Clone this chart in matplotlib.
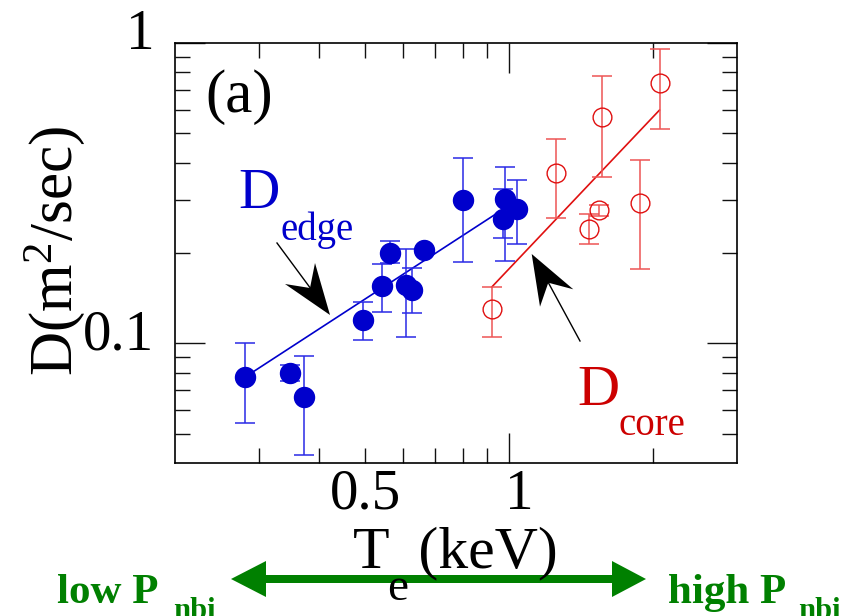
import numpy as np
import matplotlib
matplotlib.use("Agg")
import matplotlib.pyplot as plt
from matplotlib.patches import Polygon
from matplotlib.lines import Line2D
from matplotlib.ticker import FixedLocator, FixedFormatter, NullFormatter
import matplotlib.transforms as mtransforms

plt.rcParams['font.family'] = ['Liberation Serif', 'DejaVu Serif']
plt.rcParams['mathtext.fontset'] = 'custom'
plt.rcParams['mathtext.rm'] = 'Liberation Serif'
plt.rcParams['mathtext.default'] = 'regular'

# ---- data ----
edge_te = [0.280, 0.3475, 0.373, 0.496, 0.542, 0.564, 0.608, 0.628, 0.664, 0.803, 0.981, 0.972, 1.038]
edge_d = [0.0772, 0.0798, 0.0664, 0.120, 0.155, 0.200, 0.157, 0.151, 0.205, 0.300, 0.302, 0.259, 0.281]
edge_lo = [0.0542, 0.0751, 0.0425, 0.1026, 0.127, 0.185, 0.105, 0.126, 0.205, 0.187, 0.188, 0.224, 0.215]
edge_hi = [0.1005, 0.0845, 0.0905, 0.1376, 0.184, 0.219, 0.207, 0.178, 0.205, 0.415, 0.387, 0.327, 0.351]

core_te = [0.920, 1.257, 1.472, 1.545, 1.563, 1.878, 2.075]
core_d = [0.130, 0.368, 0.240, 0.279, 0.567, 0.2925, 0.734]
core_lo = [0.1047, 0.262, 0.2137, 0.266, 0.359, 0.177, 0.516]
core_hi = [0.1543, 0.479, 0.269, 0.290, 0.775, 0.408, 0.955]

fit_edge_te = [0.280, 0.98]
fit_edge_d = [0.0772, 0.282]
fit_core_te = [0.92, 2.065]
fit_core_d = [0.154, 0.598]

x_major = [1.0]
x_minor = [0.3, 0.4, 0.5, 0.6, 0.7, 0.8, 0.9, 2.0]
x_minor_labels = ['', '', '0.5', '', '', '', '', '']
y_major = [0.1, 1.0]
y_major_labels = ['0.1', '1']
y_minor = [0.05, 0.06, 0.07, 0.08, 0.09, 0.2, 0.3, 0.4, 0.5, 0.6, 0.7, 0.8, 0.9]

BLUE = '#0000cc'
BLUE_E = '#2a2ae6'
RED = '#e01010'
RED_E = '#ee5555'
GREEN = '#008000'

W, H = 843, 616
fig = plt.figure(figsize=(W / 100, H / 100), dpi=100)
ax = fig.add_axes([175 / W, 1 - 463 / H, (737 - 175) / W, (463 - 43) / H])
ax.set_xscale('log')
ax.set_yscale('log')
ax.set_xlim(0.2, 3.0)
ax.set_ylim(0.04, 1.0)

def fx(px):
    return px / W

def fy(py):
    return 1 - py / H

# fit lines
ax.plot(fit_edge_te, fit_edge_d, color=BLUE, lw=1.2, zorder=2)
ax.plot(fit_core_te, fit_core_d, color=RED, lw=1.2, zorder=2)

# edge data
e_te = np.array(edge_te); e_d = np.array(edge_d)
e_err = [e_d - np.array(edge_lo), np.array(edge_hi) - e_d]
ax.errorbar(e_te, e_d, yerr=e_err, fmt='none', ecolor=BLUE_E, elinewidth=1.1,
            capsize=7.5, capthick=1.1, zorder=3)
ax.plot(e_te, e_d, 'o', color=BLUE, ms=14.4, mec=BLUE, zorder=4)

# core data
c_te = np.array(core_te); c_d = np.array(core_d)
c_err = [c_d - np.array(core_lo), np.array(core_hi) - c_d]
ax.errorbar(c_te, c_d, yerr=c_err, fmt='none', ecolor=RED_E, elinewidth=1.1,
            capsize=7.5, capthick=1.1, zorder=3)
ax.plot(c_te, c_d, 'o', mfc='none', mec=RED, mew=1.0, ms=13.5, zorder=4)

# ticks
ax.xaxis.set_major_locator(FixedLocator(x_major))
ax.xaxis.set_major_formatter(FixedFormatter(['1']))
ax.xaxis.set_minor_locator(FixedLocator(x_minor))
ax.xaxis.set_minor_formatter(FixedFormatter(x_minor_labels))
ax.yaxis.set_major_locator(FixedLocator(y_major))
ax.yaxis.set_major_formatter(FixedFormatter(y_major_labels))
ax.yaxis.set_minor_locator(FixedLocator(y_minor))
ax.yaxis.set_minor_formatter(NullFormatter())

ax.tick_params(which='both', direction='in', top=True, right=True, width=1.0,
               color='#111111', labelsize=41)
ax.tick_params(which='major', length=21.6)
ax.tick_params(which='minor', length=10.8)
ax.tick_params(axis='x', which='both', pad=4)
ax.tick_params(axis='y', which='both', pad=15)
for s in ax.spines.values():
    s.set_linewidth(1.2)

# tick label offsets
up = mtransforms.ScaledTranslation(0, 14 / 100, fig.dpi_scale_trans)
for t in ax.yaxis.get_major_ticks():
    t.label1.set_transform(t.label1.get_transform() + up)
right = mtransforms.ScaledTranslation(10 / 100, 0, fig.dpi_scale_trans)
for t in ax.xaxis.get_major_ticks():
    t.label1.set_transform(t.label1.get_transform() + right)

# axis labels
fig.text(fx(55), fy(251), 'D(m$^2$/sec)', rotation=90, ha='center', va='center', fontsize=44)
fig.text(fx(353), fy(567), 'T  (keV)', ha='left', va='baseline', fontsize=43)
fig.text(fx(387), fy(600), 'e', ha='left', va='baseline', fontsize=34)

# panel and annotations
fig.text(fx(205), fy(112), '(a)', ha='left', va='baseline', fontsize=44)
fig.text(fx(238), fy(208), 'D', ha='left', va='baseline', fontsize=41, color=BLUE)
fig.text(fx(280), fy(240), 'edge', ha='left', va='baseline', fontsize=28, color=BLUE)
fig.text(fx(577), fy(405), 'D', ha='left', va='baseline', fontsize=42, color='#cc0000')
fig.text(fx(618), fy(435), 'core', ha='left', va='baseline', fontsize=28, color='#cc0000')

# pointer arrows
def pix_line(p0, p1, **kw):
    fig.add_artist(Line2D([fx(p0[0]), fx(p1[0])], [fy(p0[1]), fy(p1[1])],
                          transform=fig.transFigure, **kw))

def pix_poly(pts, **kw):
    fig.add_artist(Polygon([(fx(a), fy(b)) for a, b in pts], closed=True,
                           transform=fig.transFigure, **kw))

pix_line((277, 243), (311, 289), color='black', lw=1.0)
pix_poly([(330, 315), (315, 263), (310, 288), (285, 284)], color='black', lw=0)
pix_line((580, 341), (548, 282), color='black', lw=1.0)
pix_poly([(531.7, 254), (573.3, 289.3), (548.3, 282.7), (540, 306.7)], color='black', lw=0)

# green double arrow and texts
pix_poly([(231, 579), (266, 561), (266, 575), (612, 575), (612, 561), (646, 579),
          (612, 597), (612, 583), (266, 583), (266, 597)], color=GREEN, lw=0)
fig.text(fx(57), fy(603), 'low P', ha='left', va='baseline', fontsize=31,
         fontweight='bold', color=GREEN)
fig.text(fx(173), fy(619), 'nbi', ha='left', va='baseline', fontsize=22,
         fontweight='bold', color=GREEN)
fig.text(fx(668), fy(603), 'high P', ha='left', va='baseline', fontsize=31,
         fontweight='bold', color=GREEN)
fig.text(fx(798), fy(619), 'nbi', ha='left', va='baseline', fontsize=22,
         fontweight='bold', color=GREEN)

fig.savefig('out.png', dpi=100)
